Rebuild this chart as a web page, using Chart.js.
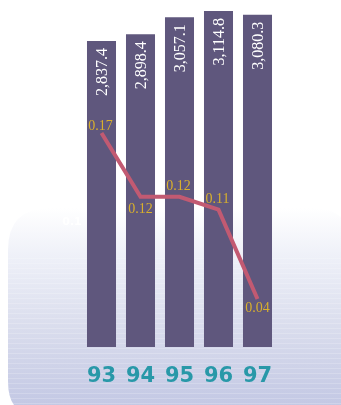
<!DOCTYPE html>
<html>
<head>
<meta charset="utf-8">
<script src="https://cdn.jsdelivr.net/npm/chart.js@4"></script>
<style>
  html, body { margin: 0; padding: 0; background: #ffffff; }
  #wrap { width: 341px; height: 405px; position: relative; }
</style>
</head>
<body>
<div id="wrap"><canvas id="grafico" width="341" height="405"></canvas></div>
<script>
// datos
const anios = ["93", "94", "95", "96", "97"];
const ventas = [2837.4, 2898.4, 3057.1, 3114.8, 3080.3];
const ratio = [0.17, 0.12, 0.12, 0.11, 0.04];
const etiquetasVentas = ["2,837.4", "2,898.4", "3,057.1", "3,114.8", "3,080.3"];
const marcaEje = 0.1;

// posicion de cada etiqueta de la linea: arriba o abajo del punto
const ladoEtiqueta = ["up", "down", "up", "up", "down"];

// fondo redondeado con degradado
const fondo = {
    id: "fondo",
    beforeDraw(chart) {
        const ctx = chart.ctx;
        const x = 8, y = 208, w = 345, h = 205, r = 42;
        ctx.save();
        ctx.beginPath();
        ctx.moveTo(x + r, y);
        ctx.lineTo(x + w - r, y);
        ctx.quadraticCurveTo(x + w, y, x + w, y + r);
        ctx.lineTo(x + w, y + h);
        ctx.lineTo(x + 24, y + h);
        ctx.quadraticCurveTo(x, y + h, x, y + h - 32);
        ctx.lineTo(x, y + r);
        ctx.quadraticCurveTo(x, y, x + r, y);
        ctx.closePath();
        const g = ctx.createLinearGradient(0, y, 0, 405);
        g.addColorStop(0, "#ffffff");
        g.addColorStop(0.25, "#eef0f8");
        g.addColorStop(0.6, "#dadded");
        g.addColorStop(1, "#c3c8e4");
        ctx.fillStyle = g;
        ctx.fill();
        ctx.clip();
        // rayas finas
        ctx.strokeStyle = "rgba(255,255,255,0.2)";
        ctx.lineWidth = 1;
        for (let yy = y + 50; yy < 405; yy += 5) {
            ctx.beginPath();
            ctx.moveTo(0, yy + 0.5);
            ctx.lineTo(341, yy + 0.5);
            ctx.stroke();
        }
        ctx.restore();
    }
};

// textos: valores de barras, valores de la linea, años
const textos = {
    id: "textos",
    afterDatasetsDraw(chart) {
        const ctx = chart.ctx;
        const barras = chart.getDatasetMeta(1).data;
        const puntos = chart.getDatasetMeta(0).data;
        const xs = chart.scales.x;
        const y2 = chart.scales.y2;
        ctx.save();

        // valores de ventas, girados
        ctx.fillStyle = "#ffffff";
        ctx.font = "16px 'Liberation Serif'";
        ctx.textAlign = "right";
        ctx.textBaseline = "middle";
        barras.forEach((b, i) => {
            ctx.save();
            ctx.translate(b.x, b.y + 7);
            ctx.rotate(-Math.PI / 2);
            ctx.fillText(etiquetasVentas[i], 0, 1);
            ctx.restore();
        });

        // valores de la linea
        ctx.fillStyle = "#d9b02c";
        ctx.font = "14px 'Liberation Serif'";
        ctx.textAlign = "center";
        puntos.forEach((p, i) => {
            if (ladoEtiqueta[i] === "up") {
                ctx.textBaseline = "bottom";
                ctx.fillText(ratio[i].toFixed(2), p.x - 1, p.y - (i === 0 ? 0 : 3));
            } else {
                ctx.textBaseline = "top";
                ctx.fillText(ratio[i].toFixed(2), p.x, p.y + (i === 1 ? 6 : 2));
            }
        });

        // marca del eje secundario
        ctx.fillStyle = "rgba(255,255,255,0.95)";
        ctx.font = "bold 11px 'DejaVu Sans'";
        ctx.textBaseline = "middle";
        ctx.fillText(String(marcaEje), 72, y2.getPixelForValue(marcaEje));

        // años
        ctx.fillStyle = "#2898a8";
        ctx.font = "bold 21px 'DejaVu Sans'";
        ctx.textBaseline = "alphabetic";
        anios.forEach((a, i) => {
            ctx.fillText(a, xs.getPixelForValue(i), 382);
        });
        ctx.restore();
    }
};

function inicializarGrafico() {
    const ctx = document.getElementById("grafico").getContext("2d");
    new Chart(ctx, {
        data: {
            labels: anios,
            datasets: [{
                type: "line",
                data: ratio,
                yAxisID: "y2",
                borderColor: "#c25a72",
                borderWidth: 4,
                pointRadius: 0,
                tension: 0,
                fill: false,
                order: 0,
            }, {
                type: "bar",
                data: ventas,
                yAxisID: "y",
                backgroundColor: "#5f577d",
                categoryPercentage: 1,
                barPercentage: 0.744,
                order: 1,
            }],
        },
        options: {
            responsive: false,
            animation: false,
            layout: {
                padding: { left: 82, right: 64, top: 0, bottom: 58 },
            },
            plugins: {
                legend: { display: false },
                tooltip: { enabled: false },
            },
            scales: {
                x: { display: false, offset: true },
                y: { display: false, min: 0, max: 3217 },
                y2: { display: false, position: "right", min: 0.0025, max: 0.274 },
            },
        },
        plugins: [fondo, textos],
    });
}

window.onload = inicializarGrafico;
</script>
</body>
</html>
